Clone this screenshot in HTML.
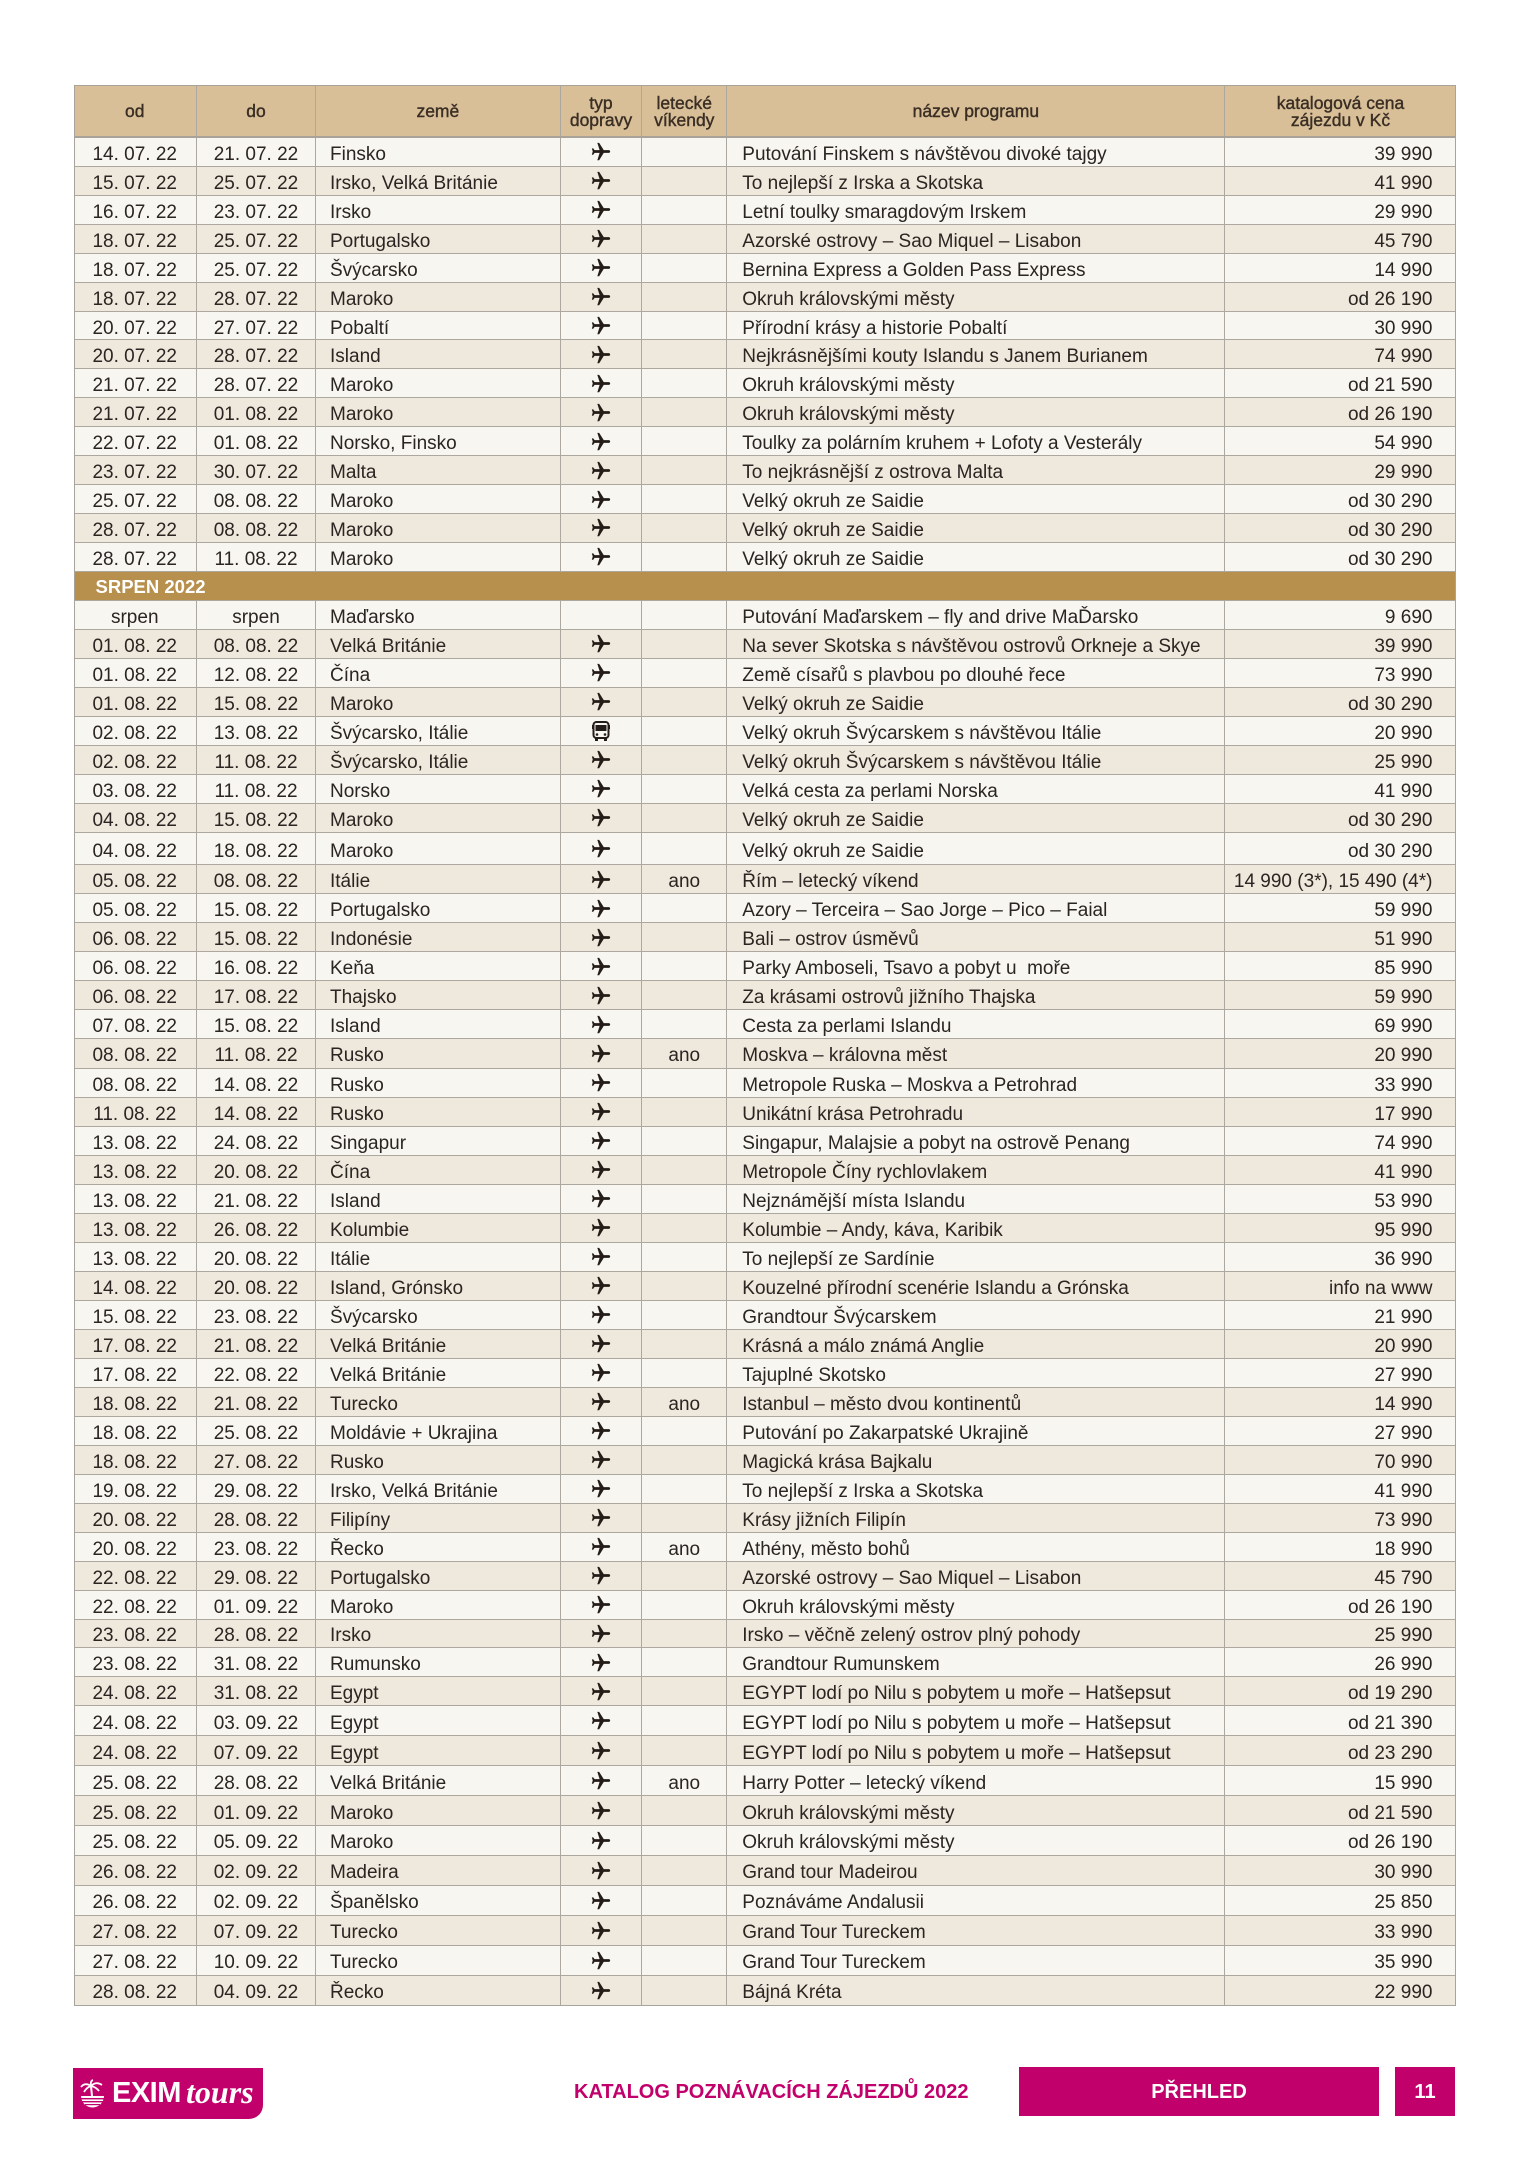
<!DOCTYPE html>
<html lang="cs">
<head>
<meta charset="utf-8">
<style>
*{margin:0;padding:0;box-sizing:border-box}
html,body{width:1529px;height:2160px;background:#fff;overflow:hidden}
body{position:relative;font-family:"Liberation Sans",Arial,sans-serif;color:#2a2522}
#t{position:absolute;left:73.5px;top:85px;width:1382px}
.r{display:flex;width:1382px;border-bottom:1.5px solid #aca79f;font-size:19px;background:#f8f6f1}
.r.d{background:#efe8dc}
.r>span{display:flex;align-items:center;padding-top:6px;border-right:1.5px solid #aca79f;white-space:nowrap;overflow:visible}
.r>span:last-child{border-right:none}
.r>span:nth-child(1){width:123.5px;justify-content:center}
.r>span:nth-child(2){width:119px;justify-content:center}
.r>span:nth-child(3){width:244.7px;padding-left:14px}
.r>span:nth-child(4){width:81.6px;justify-content:center;padding-top:1px}
.r>span:nth-child(5){width:85px;justify-content:center}
.r>span:nth-child(6){width:498.2px;padding-left:15px}
.r>span:nth-child(7){width:230px;justify-content:flex-end;padding-right:23px}
.hd{height:53px;background:#d8bf98;border-bottom:2px solid #a8a298;font-size:17.5px;font-weight:normal;-webkit-text-stroke:0.4px #3a2e24;color:#3a2e24}
.hd>span{padding-top:3px!important;text-align:center;justify-content:center!important;line-height:17.5px;padding-left:0!important;padding-right:0!important}
.h0{height:28.93px}.h1{height:29px}.h2{height:32.3px}.h3{height:29.06px}.h4{height:28.95px}.h5{height:29.93px}
.sec{height:29.05px;background:#b8904e;border-bottom:1.5px solid #aca79f;color:#fff;font-weight:bold;font-size:18.5px;padding-left:22px;display:flex;align-items:center;padding-top:3px}
.p{width:22px;height:22px;display:block}
.bus{width:18px;height:21px;display:block}
#ob{position:absolute;left:73.5px;top:85px;width:1382px;height:1921px;border:1.5px solid #a8a39b;pointer-events:none}
.logo{position:absolute;left:73px;top:2068px;width:190px;height:51px;background:#c2006b;border-bottom-right-radius:14px}
.logo .ex{position:absolute;left:39px;top:8px;color:#fff;font-weight:bold;font-size:29px;letter-spacing:-0.5px;line-height:34px}
.logo .to{position:absolute;left:113px;top:6px;color:#fff;font-family:"Liberation Serif",serif;font-style:italic;font-weight:bold;font-size:32px;line-height:36px}
.kat{position:absolute;left:574px;top:2079px;font-size:20px;font-weight:bold;color:#c2006b;line-height:26px;white-space:nowrap}
.box{position:absolute;top:2067px;height:49px;background:#c2006b;color:#fff;font-weight:bold;font-size:20px;display:flex;align-items:center;justify-content:center;padding-top:2px}
</style>
</head>
<body>
<svg width="0" height="0" style="position:absolute">
<defs>
<symbol id="pl" viewBox="0 0 24 24"><g transform="rotate(90 12 12)"><path fill="#231c17" d="M21 16v-2l-8-5V3.5c0-.83-.67-1.5-1.5-1.5S10 2.67 10 3.5V9l-8 5v2l8-2.5V19l-2 1.5V22l3.5-1 3.5 1v-1.5L13 19v-5.5l8 2.5z"/></g></symbol>
</defs>
</svg>
<div id="t">
<div class="r hd"><span>od</span><span>do</span><span>země</span><span>typ<br>dopravy</span><span>letecké<br>víkendy</span><span>název programu</span><span>katalogová cena<br>zájezdu v Kč</span></div>

<div class="r h0"><span>14. 07. 22</span><span>21. 07. 22</span><span>Finsko</span><span><svg class="p"><use href="#pl"/></svg></span><span></span><span>Putování Finskem s návštěvou divoké tajgy</span><span>39 990</span></div>
<div class="r h0 d"><span>15. 07. 22</span><span>25. 07. 22</span><span>Irsko, Velká Británie</span><span><svg class="p"><use href="#pl"/></svg></span><span></span><span>To nejlepší z Irska a Skotska</span><span>41 990</span></div>
<div class="r h0"><span>16. 07. 22</span><span>23. 07. 22</span><span>Irsko</span><span><svg class="p"><use href="#pl"/></svg></span><span></span><span>Letní toulky smaragdovým Irskem</span><span>29 990</span></div>
<div class="r h0 d"><span>18. 07. 22</span><span>25. 07. 22</span><span>Portugalsko</span><span><svg class="p"><use href="#pl"/></svg></span><span></span><span>Azorské ostrovy – Sao Miquel – Lisabon</span><span>45 790</span></div>
<div class="r h0"><span>18. 07. 22</span><span>25. 07. 22</span><span>Švýcarsko</span><span><svg class="p"><use href="#pl"/></svg></span><span></span><span>Bernina Express a Golden Pass Express</span><span>14 990</span></div>
<div class="r h0 d"><span>18. 07. 22</span><span>28. 07. 22</span><span>Maroko</span><span><svg class="p"><use href="#pl"/></svg></span><span></span><span>Okruh královskými městy</span><span>od 26 190</span></div>
<div class="r h0"><span>20. 07. 22</span><span>27. 07. 22</span><span>Pobaltí</span><span><svg class="p"><use href="#pl"/></svg></span><span></span><span>Přírodní krásy a historie Pobaltí</span><span>30 990</span></div>
<div class="r h0 d"><span>20. 07. 22</span><span>28. 07. 22</span><span>Island</span><span><svg class="p"><use href="#pl"/></svg></span><span></span><span>Nejkrásnějšími kouty Islandu s Janem Burianem</span><span>74 990</span></div>
<div class="r h0"><span>21. 07. 22</span><span>28. 07. 22</span><span>Maroko</span><span><svg class="p"><use href="#pl"/></svg></span><span></span><span>Okruh královskými městy</span><span>od 21 590</span></div>
<div class="r h0 d"><span>21. 07. 22</span><span>01. 08. 22</span><span>Maroko</span><span><svg class="p"><use href="#pl"/></svg></span><span></span><span>Okruh královskými městy</span><span>od 26 190</span></div>
<div class="r h0"><span>22. 07. 22</span><span>01. 08. 22</span><span>Norsko, Finsko</span><span><svg class="p"><use href="#pl"/></svg></span><span></span><span>Toulky za polárním kruhem + Lofoty a Vesterály</span><span>54 990</span></div>
<div class="r h0 d"><span>23. 07. 22</span><span>30. 07. 22</span><span>Malta</span><span><svg class="p"><use href="#pl"/></svg></span><span></span><span>To nejkrásnější z ostrova Malta</span><span>29 990</span></div>
<div class="r h0"><span>25. 07. 22</span><span>08. 08. 22</span><span>Maroko</span><span><svg class="p"><use href="#pl"/></svg></span><span></span><span>Velký okruh ze Saidie</span><span>od 30 290</span></div>
<div class="r h0 d"><span>28. 07. 22</span><span>08. 08. 22</span><span>Maroko</span><span><svg class="p"><use href="#pl"/></svg></span><span></span><span>Velký okruh ze Saidie</span><span>od 30 290</span></div>
<div class="r h0"><span>28. 07. 22</span><span>11. 08. 22</span><span>Maroko</span><span><svg class="p"><use href="#pl"/></svg></span><span></span><span>Velký okruh ze Saidie</span><span>od 30 290</span></div>

<div class="sec">SRPEN 2022</div>

<div class="r h1"><span>srpen</span><span>srpen</span><span>Maďarsko</span><span></span><span></span><span>Putování Maďarskem – fly and drive MaĎarsko</span><span>9 690</span></div>
<div class="r h1 d"><span>01. 08. 22</span><span>08. 08. 22</span><span>Velká Británie</span><span><svg class="p"><use href="#pl"/></svg></span><span></span><span>Na sever Skotska s návštěvou ostrovů Orkneje a Skye</span><span>39 990</span></div>
<div class="r h1"><span>01. 08. 22</span><span>12. 08. 22</span><span>Čína</span><span><svg class="p"><use href="#pl"/></svg></span><span></span><span>Země císařů s plavbou po dlouhé řece</span><span>73 990</span></div>
<div class="r h1 d"><span>01. 08. 22</span><span>15. 08. 22</span><span>Maroko</span><span><svg class="p"><use href="#pl"/></svg></span><span></span><span>Velký okruh ze Saidie</span><span>od 30 290</span></div>
<div class="r h1"><span>02. 08. 22</span><span>13. 08. 22</span><span>Švýcarsko, Itálie</span><span><svg class="bus" viewBox="0 0 18 21"><rect x="1.5" y="1" width="15" height="16" rx="3" fill="none" stroke="#231c17" stroke-width="2"/><rect x="3.5" y="4" width="11" height="6" fill="#231c17"/><rect x="0" y="4" width="1.5" height="4" fill="#231c17"/><rect x="16.5" y="4" width="1.5" height="4" fill="#231c17"/><circle cx="5" cy="13.5" r="1.3" fill="#231c17"/><circle cx="13" cy="13.5" r="1.3" fill="#231c17"/><rect x="3" y="17" width="3" height="3" fill="#231c17"/><rect x="12" y="17" width="3" height="3" fill="#231c17"/></svg></span><span></span><span>Velký okruh Švýcarskem s návštěvou Itálie</span><span>20 990</span></div>
<div class="r h1 d"><span>02. 08. 22</span><span>11. 08. 22</span><span>Švýcarsko, Itálie</span><span><svg class="p"><use href="#pl"/></svg></span><span></span><span>Velký okruh Švýcarskem s návštěvou Itálie</span><span>25 990</span></div>
<div class="r h1"><span>03. 08. 22</span><span>11. 08. 22</span><span>Norsko</span><span><svg class="p"><use href="#pl"/></svg></span><span></span><span>Velká cesta za perlami Norska</span><span>41 990</span></div>
<div class="r h1 d"><span>04. 08. 22</span><span>15. 08. 22</span><span>Maroko</span><span><svg class="p"><use href="#pl"/></svg></span><span></span><span>Velký okruh ze Saidie</span><span>od 30 290</span></div>
<div class="r h2"><span>04. 08. 22</span><span>18. 08. 22</span><span>Maroko</span><span><svg class="p"><use href="#pl"/></svg></span><span></span><span>Velký okruh ze Saidie</span><span>od 30 290</span></div>
<div class="r h3 d"><span>05. 08. 22</span><span>08. 08. 22</span><span>Itálie</span><span><svg class="p"><use href="#pl"/></svg></span><span>ano</span><span>Řím – letecký víkend</span><span>14 990 (3*), 15 490 (4*)</span></div>
<div class="r h3"><span>05. 08. 22</span><span>15. 08. 22</span><span>Portugalsko</span><span><svg class="p"><use href="#pl"/></svg></span><span></span><span>Azory – Terceira – Sao Jorge – Pico – Faial</span><span>59 990</span></div>
<div class="r h3 d"><span>06. 08. 22</span><span>15. 08. 22</span><span>Indonésie</span><span><svg class="p"><use href="#pl"/></svg></span><span></span><span>Bali – ostrov úsměvů</span><span>51 990</span></div>
<div class="r h3"><span>06. 08. 22</span><span>16. 08. 22</span><span>Keňa</span><span><svg class="p"><use href="#pl"/></svg></span><span></span><span>Parky Amboseli, Tsavo a pobyt u&nbsp; moře</span><span>85 990</span></div>
<div class="r h3 d"><span>06. 08. 22</span><span>17. 08. 22</span><span>Thajsko</span><span><svg class="p"><use href="#pl"/></svg></span><span></span><span>Za krásami ostrovů jižního Thajska</span><span>59 990</span></div>
<div class="r h3"><span>07. 08. 22</span><span>15. 08. 22</span><span>Island</span><span><svg class="p"><use href="#pl"/></svg></span><span></span><span>Cesta za perlami Islandu</span><span>69 990</span></div>
<div class="r h3 d"><span>08. 08. 22</span><span>11. 08. 22</span><span>Rusko</span><span><svg class="p"><use href="#pl"/></svg></span><span>ano</span><span>Moskva – královna měst</span><span>20 990</span></div>
<div class="r h3"><span>08. 08. 22</span><span>14. 08. 22</span><span>Rusko</span><span><svg class="p"><use href="#pl"/></svg></span><span></span><span>Metropole Ruska – Moskva a Petrohrad</span><span>33 990</span></div>
<div class="r h3 d"><span>11. 08. 22</span><span>14. 08. 22</span><span>Rusko</span><span><svg class="p"><use href="#pl"/></svg></span><span></span><span>Unikátní krása Petrohradu</span><span>17 990</span></div>
<div class="r h3"><span>13. 08. 22</span><span>24. 08. 22</span><span>Singapur</span><span><svg class="p"><use href="#pl"/></svg></span><span></span><span>Singapur, Malajsie a pobyt na ostrově Penang</span><span>74 990</span></div>
<div class="r h3 d"><span>13. 08. 22</span><span>20. 08. 22</span><span>Čína</span><span><svg class="p"><use href="#pl"/></svg></span><span></span><span>Metropole Číny rychlovlakem</span><span>41 990</span></div>
<div class="r h3"><span>13. 08. 22</span><span>21. 08. 22</span><span>Island</span><span><svg class="p"><use href="#pl"/></svg></span><span></span><span>Nejznámější místa Islandu</span><span>53 990</span></div>
<div class="r h3 d"><span>13. 08. 22</span><span>26. 08. 22</span><span>Kolumbie</span><span><svg class="p"><use href="#pl"/></svg></span><span></span><span>Kolumbie – Andy, káva, Karibik</span><span>95 990</span></div>
<div class="r h3"><span>13. 08. 22</span><span>20. 08. 22</span><span>Itálie</span><span><svg class="p"><use href="#pl"/></svg></span><span></span><span>To nejlepší ze Sardínie</span><span>36 990</span></div>
<div class="r h3 d"><span>14. 08. 22</span><span>20. 08. 22</span><span>Island, Grónsko</span><span><svg class="p"><use href="#pl"/></svg></span><span></span><span>Kouzelné přírodní scenérie Islandu a Grónska</span><span>info na www</span></div>
<div class="r h3"><span>15. 08. 22</span><span>23. 08. 22</span><span>Švýcarsko</span><span><svg class="p"><use href="#pl"/></svg></span><span></span><span>Grandtour Švýcarskem</span><span>21 990</span></div>
<div class="r h3 d"><span>17. 08. 22</span><span>21. 08. 22</span><span>Velká Británie</span><span><svg class="p"><use href="#pl"/></svg></span><span></span><span>Krásná a málo známá Anglie</span><span>20 990</span></div>
<div class="r h3"><span>17. 08. 22</span><span>22. 08. 22</span><span>Velká Británie</span><span><svg class="p"><use href="#pl"/></svg></span><span></span><span>Tajuplné Skotsko</span><span>27 990</span></div>
<div class="r h4 d"><span>18. 08. 22</span><span>21. 08. 22</span><span>Turecko</span><span><svg class="p"><use href="#pl"/></svg></span><span>ano</span><span>Istanbul – město dvou kontinentů</span><span>14 990</span></div>
<div class="r h4"><span>18. 08. 22</span><span>25. 08. 22</span><span>Moldávie + Ukrajina</span><span><svg class="p"><use href="#pl"/></svg></span><span></span><span>Putování po Zakarpatské Ukrajině</span><span>27 990</span></div>
<div class="r h4 d"><span>18. 08. 22</span><span>27. 08. 22</span><span>Rusko</span><span><svg class="p"><use href="#pl"/></svg></span><span></span><span>Magická krása Bajkalu</span><span>70 990</span></div>
<div class="r h4"><span>19. 08. 22</span><span>29. 08. 22</span><span>Irsko, Velká Británie</span><span><svg class="p"><use href="#pl"/></svg></span><span></span><span>To nejlepší z Irska a Skotska</span><span>41 990</span></div>
<div class="r h4 d"><span>20. 08. 22</span><span>28. 08. 22</span><span>Filipíny</span><span><svg class="p"><use href="#pl"/></svg></span><span></span><span>Krásy jižních Filipín</span><span>73 990</span></div>
<div class="r h4"><span>20. 08. 22</span><span>23. 08. 22</span><span>Řecko</span><span><svg class="p"><use href="#pl"/></svg></span><span>ano</span><span>Athény, město bohů</span><span>18 990</span></div>
<div class="r h4 d"><span>22. 08. 22</span><span>29. 08. 22</span><span>Portugalsko</span><span><svg class="p"><use href="#pl"/></svg></span><span></span><span>Azorské ostrovy – Sao Miquel – Lisabon</span><span>45 790</span></div>
<div class="r h4"><span>22. 08. 22</span><span>01. 09. 22</span><span>Maroko</span><span><svg class="p"><use href="#pl"/></svg></span><span></span><span>Okruh královskými městy</span><span>od 26 190</span></div>
<div class="r h4 d"><span>23. 08. 22</span><span>28. 08. 22</span><span>Irsko</span><span><svg class="p"><use href="#pl"/></svg></span><span></span><span>Irsko – věčně zelený ostrov plný pohody</span><span>25 990</span></div>
<div class="r h4"><span>23. 08. 22</span><span>31. 08. 22</span><span>Rumunsko</span><span><svg class="p"><use href="#pl"/></svg></span><span></span><span>Grandtour Rumunskem</span><span>26 990</span></div>
<div class="r h4 d"><span>24. 08. 22</span><span>31. 08. 22</span><span>Egypt</span><span><svg class="p"><use href="#pl"/></svg></span><span></span><span>EGYPT lodí po Nilu s pobytem u moře – Hatšepsut</span><span>od 19 290</span></div>
<div class="r h5"><span>24. 08. 22</span><span>03. 09. 22</span><span>Egypt</span><span><svg class="p"><use href="#pl"/></svg></span><span></span><span>EGYPT lodí po Nilu s pobytem u moře – Hatšepsut</span><span>od 21 390</span></div>
<div class="r h5 d"><span>24. 08. 22</span><span>07. 09. 22</span><span>Egypt</span><span><svg class="p"><use href="#pl"/></svg></span><span></span><span>EGYPT lodí po Nilu s pobytem u moře – Hatšepsut</span><span>od 23 290</span></div>
<div class="r h5"><span>25. 08. 22</span><span>28. 08. 22</span><span>Velká Británie</span><span><svg class="p"><use href="#pl"/></svg></span><span>ano</span><span>Harry Potter – letecký víkend</span><span>15 990</span></div>
<div class="r h5 d"><span>25. 08. 22</span><span>01. 09. 22</span><span>Maroko</span><span><svg class="p"><use href="#pl"/></svg></span><span></span><span>Okruh královskými městy</span><span>od 21 590</span></div>
<div class="r h5"><span>25. 08. 22</span><span>05. 09. 22</span><span>Maroko</span><span><svg class="p"><use href="#pl"/></svg></span><span></span><span>Okruh královskými městy</span><span>od 26 190</span></div>
<div class="r h5 d"><span>26. 08. 22</span><span>02. 09. 22</span><span>Madeira</span><span><svg class="p"><use href="#pl"/></svg></span><span></span><span>Grand tour Madeirou</span><span>30 990</span></div>
<div class="r h5"><span>26. 08. 22</span><span>02. 09. 22</span><span>Španělsko</span><span><svg class="p"><use href="#pl"/></svg></span><span></span><span>Poznáváme Andalusii</span><span>25 850</span></div>
<div class="r h5 d"><span>27. 08. 22</span><span>07. 09. 22</span><span>Turecko</span><span><svg class="p"><use href="#pl"/></svg></span><span></span><span>Grand Tour Tureckem</span><span>33 990</span></div>
<div class="r h5"><span>27. 08. 22</span><span>10. 09. 22</span><span>Turecko</span><span><svg class="p"><use href="#pl"/></svg></span><span></span><span>Grand Tour Tureckem</span><span>35 990</span></div>
<div class="r h5 d"><span>28. 08. 22</span><span>04. 09. 22</span><span>Řecko</span><span><svg class="p"><use href="#pl"/></svg></span><span></span><span>Bájná Kréta</span><span>22 990</span></div>
</div>
<div id="ob"></div>

<div class="logo">
<svg style="position:absolute;left:5px;top:11px" width="29" height="29" viewBox="0 0 29 29">
<path d="M3 17 A11.5 11.5 0 0 0 26 17 Z" fill="#fff"/>
<rect x="3" y="19" width="23" height="1.4" fill="#c2006b"/>
<rect x="4" y="22" width="21" height="1.4" fill="#c2006b"/>
<rect x="7" y="25" width="15" height="1.2" fill="#c2006b"/>
<path d="M14 17 L13 7" stroke="#fff" stroke-width="2" fill="none"/>
<path d="M13 7 Q7 3 3 8 M13 7 Q18 2 24 6 M13 7 Q9 8 6 13 M13 7 Q18 8 21 12 M13 7 Q12 2 15 1" stroke="#fff" stroke-width="1.8" fill="none"/>
</svg>
<div class="ex">EXIM</div>
<div class="to">tours</div>
</div>
<div class="kat">KATALOG POZNÁVACÍCH ZÁJEZDŮ 2022</div>
<div class="box" style="left:1019px;width:360px">PŘEHLED</div>
<div class="box" style="left:1395px;width:60px">11</div>
</body>
</html>
